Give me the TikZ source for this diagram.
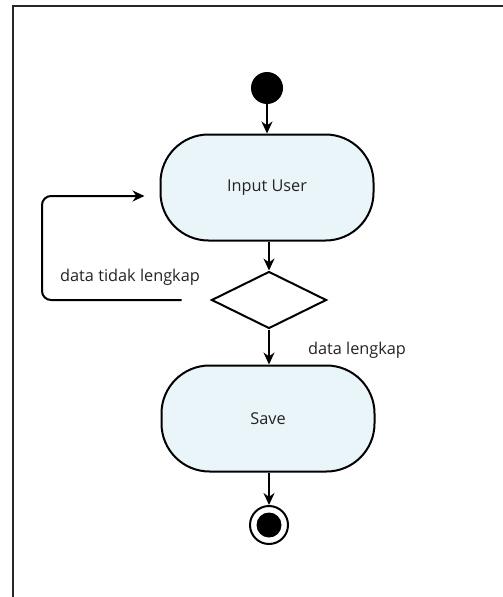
\documentclass[tikz,border=0pt]{standalone}
\usepackage{fontspec}
\setmainfont{Open Sans}
\usetikzlibrary{arrows.meta,shapes.geometric}
\definecolor{actfill}{RGB}{234,245,249}
\definecolor{txt}{RGB}{35,35,35}
\tikzset{
  act/.style={draw=black,line width=2pt,fill=actfill,rounded corners=48pt,minimum width=213pt,minimum height=106pt,text=txt,font=\fontsize{16.3}{18}\selectfont},
  dec/.style={draw=black,line width=2pt,fill=white,diamond,minimum width=115pt,minimum height=57pt,inner sep=0pt},
  flow/.style={line width=2pt,-{Stealth[length=12pt,width=11pt]}},
  lbl/.style={text=txt,font=\fontsize{16.3}{18}\selectfont},
  startnode/.style={circle,fill=black,minimum size=32pt,inner sep=0pt},
  endouter/.style={circle,draw=black,line width=2pt,fill=white,minimum size=38pt,inner sep=0pt},
  endinner/.style={circle,fill=black,minimum size=25pt,inner sep=0pt},
}
\begin{document}
\begin{tikzpicture}[x=1pt,y=-1pt]
\useasboundingbox (0,0) rectangle (503,597);
\draw[line width=2pt,color=black!85] (12.5,597) -- (12.5,5.5) -- (503,5.5);
\node[startnode] (s) at (267,88) {};
\node[act] (in) at (267,187.5) {Input User};
\node[dec] (d) at (269,300) {};
\node[act] (sv) at (268,418.5) {Save};
\node[endouter] (e) at (269,525) {};
\node[endinner] (ei) at (269,525) {};
\draw[flow] (s) -- (in.north -| s);
\draw[flow] (in.south -| d) -- (d.north);
\draw[flow] (d.south) -- (sv.north -| d);
\draw[flow] (sv.south -| e) -- (e.north);
\coordinate (lp) at ([xshift=-29pt]d.west);
\coordinate (lt) at ([xshift=-15pt,yshift=-8.5pt]in.west);
\draw[flow,rounded corners=9pt] (lp) -- (42,300) |- (lt);
\node[lbl,anchor=center] (l1) at (130,277) {data tidak lengkap};
\node[lbl,anchor=center] (l2) at (357,350) {data lengkap};
\end{tikzpicture}
\end{document}
